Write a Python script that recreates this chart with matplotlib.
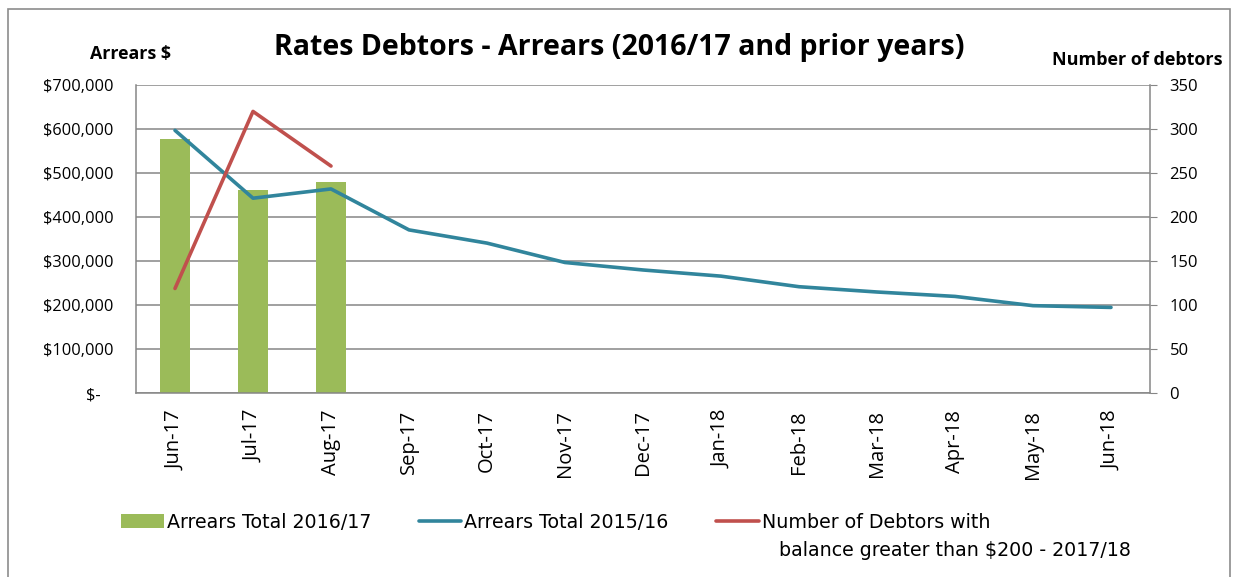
import matplotlib
matplotlib.use("Agg")
import matplotlib.pyplot as plt
from matplotlib.patches import Rectangle
import numpy as np

plt.rcParams["font.family"] = ["Open Sans", "DejaVu Sans"]

# data
months = ["Jun-17", "Jul-17", "Aug-17", "Sep-17", "Oct-17", "Nov-17", "Dec-17",
          "Jan-18", "Feb-18", "Mar-18", "Apr-18", "May-18", "Jun-18"]
arrears_1617 = [577000, 462000, 479000]                     # bars (first 3 months)
arrears_1516 = [597000, 443000, 464000, 371000, 341000, 297000, 280000,
                266000, 242000, 230000, 220000, 199000, 195000]
debtors_1718 = [119, 320, 258]                              # right axis

left_ticks = [0, 100000, 200000, 300000, 400000, 500000, 600000, 700000]
left_labels = ["$-   ", "$100,000", "$200,000", "$300,000", "$400,000",
               "$500,000", "$600,000", "$700,000"]
right_ticks = [0, 50, 100, 150, 200, 250, 300, 350]

GREEN = "#9BBB59"
BLUE = "#31859C"
RED = "#C0504D"
GRID = "#868686"

fig = plt.figure(figsize=(12.33, 5.77), dpi=100)
ax = fig.add_axes([136 / 1233, 1 - 393.3 / 577, (1150 - 136) / 1233, 308.3 / 577])
ax2 = ax.twinx()

x = np.arange(len(months))
ax.bar(x[:len(arrears_1617)], arrears_1617, width=0.39, color=GREEN, zorder=2,
       label="Arrears Total 2016/17")
ax.plot(x, arrears_1516, color=BLUE, lw=2.6, solid_capstyle="round", zorder=3,
        label="Arrears Total 2015/16")
ax2.plot(x[:len(debtors_1718)], debtors_1718, color=RED, lw=2.6,
         solid_capstyle="round", zorder=3, label="Number of Debtors with")

ax.set_xlim(-0.5, len(months) - 0.5)
ax.set_ylim(0, 700000)
ax2.set_ylim(0, 350)

ax.set_yticks(left_ticks)
ax.set_yticklabels(left_labels)
ax2.set_yticks(right_ticks)
ax.yaxis.grid(True, color=GRID, lw=1.1, zorder=0)
ax.set_axisbelow(True)

ax.set_xticks(x)
ax.set_xticklabels(months, rotation=90, va="top", ha="center")
ax.tick_params(axis="x", length=0, pad=12, labelsize=14.5)
ax.tick_params(axis="y", length=0, pad=16, labelsize=11.8)
ax2.tick_params(axis="y", length=5, pad=9, labelsize=12, color=GRID, direction="out")

for a in (ax, ax2):
    a.spines["top"].set_visible(False)
    for s in ("left", "bottom", "right"):
        a.spines[s].set_color(GRID)
        a.spines[s].set_linewidth(1.1)
ax.spines["right"].set_visible(False)
ax2.spines["left"].set_visible(False)
ax2.spines["bottom"].set_visible(False)

fig.text(619 / 1233, 1 - 48 / 577, "Rates Debtors - Arrears (2016/17 and prior years)",
         ha="center", va="center", fontsize=20.5, fontweight="bold")
fig.text(130 / 1233, 1 - 54 / 577, "Arrears $", ha="center", va="center",
         fontsize=12.8, fontweight="bold")
fig.text(1223 / 1233, 1 - 60 / 577, "Number of debtors", ha="right", va="center",
         fontsize=13, fontweight="bold")

legfont = ["DejaVu Sans"]
h1, l1 = ax.get_legend_handles_labels()
h2, l2 = ax2.get_legend_handles_labels()
order = [1, 0]
fig.legend([h1[i] for i in order] + h2, [l1[i] for i in order] + l2, ncol=3,
           loc="center left", bbox_to_anchor=(121 / 1233, 1 - 522 / 577),
           frameon=False, prop={"family": legfont, "size": 13.7},
           handlelength=2.25, handletextpad=0.15, columnspacing=2.5,
           borderpad=0, borderaxespad=0)
fig.text(779 / 1233, 1 - 551 / 577, "balance greater than $200 - 2017/18",
         ha="left", va="center", family=legfont, fontsize=13.7)

fig.patches.append(Rectangle((8 / 1233, -0.05), (1230 - 8) / 1233, 1.05 - 9 / 577,
                             transform=fig.transFigure, fill=False,
                             edgecolor="#8c8c8c", lw=1.2))

fig.savefig("out.png", dpi=100)
